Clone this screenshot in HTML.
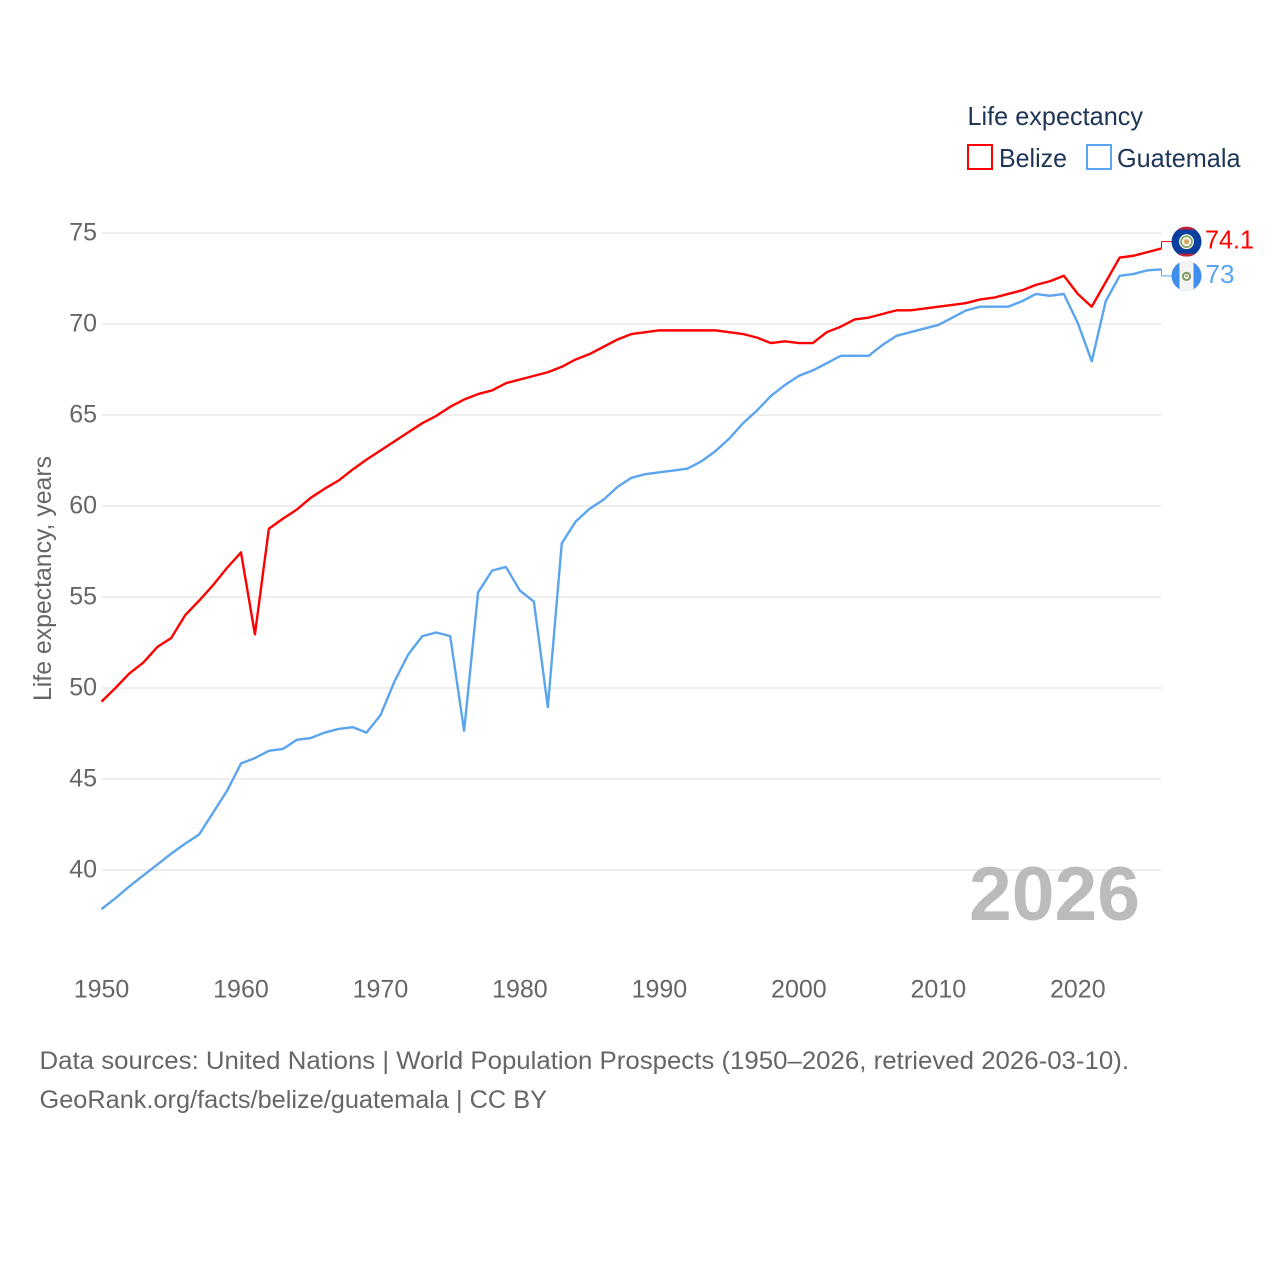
<!DOCTYPE html>
<html lang="en">
<head>
<meta charset="utf-8">
<title>Life expectancy: Belize and Guatemala</title>
<style>
  html, body { margin: 0; padding: 0; background: #fff; }
  svg { display: block; font-family: "Liberation Sans", sans-serif; }
</style>
</head>
<body>
<svg id="chart" width="1280" height="1280" viewBox="0 0 1280 1280" xmlns="http://www.w3.org/2000/svg">
  <g id="grid"></g>
  <g id="y-ticks"></g>
  <g id="x-ticks"></g>
  <text transform="translate(51,578.5) rotate(-90)" text-anchor="middle" font-size="25" fill="#666" textLength="245" lengthAdjust="spacingAndGlyphs">Life expectancy, years</text>
  <text id="year-label" x="969" y="920" font-size="76" font-weight="700" fill="#bbb" textLength="171" lengthAdjust="spacingAndGlyphs"></text>
  <g id="series"></g>

  <g>
    <text x="967.5" y="125" font-size="26" fill="#1d3557" textLength="175.5" lengthAdjust="spacingAndGlyphs">Life expectancy</text>
    <g>
      <rect x="968" y="145" width="24" height="24" fill="#fff" stroke="#ff0000" stroke-width="2"/>
      <text x="999" y="167" font-size="26" fill="#1d3557" textLength="68" lengthAdjust="spacingAndGlyphs">Belize</text>
    </g>
    <g>
      <rect x="1087" y="145" width="24" height="24" fill="#fff" stroke="#5ba4ee" stroke-width="2"/>
      <text x="1117" y="167" font-size="26" fill="#1d3557" textLength="123.5" lengthAdjust="spacingAndGlyphs">Guatemala</text>
    </g>
  </g>

  <g>
    <text x="39.5" y="1069" font-size="25" fill="#666" textLength="1089.5" lengthAdjust="spacingAndGlyphs">Data sources: United Nations | World Population Prospects (1950–2026, retrieved 2026-03-10).</text>
    <text x="39.5" y="1108" font-size="25" fill="#666" textLength="507.5" lengthAdjust="spacingAndGlyphs">GeoRank.org/facts/belize/guatemala | CC BY</text>
  </g>
</svg>

<script>
const years = [1950,1951,1952,1953,1954,1955,1956,1957,1958,1959,1960,1961,1962,1963,1964,1965,1966,1967,1968,1969,1970,1971,1972,1973,1974,1975,1976,1977,1978,1979,1980,1981,1982,1983,1984,1985,1986,1987,1988,1989,1990,1991,1992,1993,1994,1995,1996,1997,1998,1999,2000,2001,2002,2003,2004,2005,2006,2007,2008,2009,2010,2011,2012,2013,2014,2015,2016,2017,2018,2019,2020,2021,2022,2023,2024,2025,2026];
const belizeValues = [49.25,50.0,50.8,51.4,52.25,52.75,54.0,54.8,55.65,56.6,57.45,52.95,58.75,59.3,59.8,60.45,60.95,61.4,62.0,62.55,63.05,63.55,64.05,64.55,64.95,65.45,65.85,66.15,66.35,66.75,66.95,67.15,67.35,67.65,68.05,68.35,68.75,69.15,69.45,69.55,69.65,69.65,69.65,69.65,69.65,69.55,69.45,69.25,68.95,69.05,68.95,68.95,69.55,69.85,70.25,70.35,70.55,70.75,70.75,70.85,70.95,71.05,71.15,71.35,71.45,71.65,71.85,72.15,72.35,72.65,71.65,70.95,72.3,73.65,73.75,73.95,74.15];
const guatemalaValues = [37.85,38.45,39.1,39.7,40.3,40.9,41.45,41.95,43.15,44.35,45.85,46.15,46.55,46.65,47.15,47.25,47.55,47.75,47.85,47.55,48.5,50.35,51.85,52.85,53.05,52.85,47.65,55.25,56.45,56.65,55.35,54.75,48.95,57.95,59.15,59.85,60.35,61.05,61.55,61.75,61.85,61.95,62.05,62.45,63.0,63.7,64.55,65.25,66.05,66.65,67.15,67.45,67.85,68.25,68.25,68.25,68.85,69.35,69.55,69.75,69.95,70.35,70.75,70.95,70.95,70.95,71.25,71.65,71.55,71.65,70.05,67.95,71.25,72.65,72.75,72.95,73.0];
const yTickValues = [40,45,50,55,60,65,70,75];
const xTickValues = [1950,1960,1970,1980,1990,2000,2010,2020];
const belizeLabel = "74.1";
const guatemalaLabel = "73";

const NS = "http://www.w3.org/2000/svg";
const chartLeft = 101.5;
const chartRight = 1161.5;
const xScale = function (year) {
  return chartLeft + (year - years[0]) * (chartRight - chartLeft) / (years[years.length - 1] - years[0]);
};
const yScale = function (value) {
  return 870 - (value - 40) * 18.2;
};
function make(tag, attrs, parent, text) {
  const el = document.createElementNS(NS, tag);
  for (const key in attrs) el.setAttribute(key, attrs[key]);
  if (text !== undefined) el.textContent = text;
  parent.appendChild(el);
  return el;
}
function linePath(values) {
  return values.map(function (v, i) {
    return (i ? "L" : "M") + xScale(years[i]).toFixed(2) + " " + yScale(v).toFixed(2);
  }).join(" ");
}

const gridGroup = document.getElementById("grid");
const yGroup = document.getElementById("y-ticks");
const xGroup = document.getElementById("x-ticks");
const seriesGroup = document.getElementById("series");

yTickValues.forEach(function (tick) {
  const y = yScale(tick);
  const gridLine = make("line", { x1: chartLeft, x2: chartRight, y1: y, y2: y, stroke: "#eeeeee", "stroke-width": 2 }, gridGroup);
  
  
  const label = make("text", { x: 97, y: y + 7.5, "text-anchor": "end", "font-size": 25, fill: "#666" }, yGroup, String(tick));
  
  
});

xTickValues.forEach(function (tick) {
  const label = make("text", { x: xScale(tick), y: 997.5, "text-anchor": "middle", "font-size": 25, fill: "#666" }, xGroup, String(tick));
  
  
});

document.getElementById("year-label").textContent = String(years[years.length - 1]);

const belizeLine = make("path", { d: linePath(belizeValues), fill: "none", stroke: "#ff0000", "stroke-width": 2.4, "stroke-linejoin": "round" }, seriesGroup);


const guatemalaLine = make("path", { d: linePath(guatemalaValues), fill: "none", stroke: "#5ba4ee", "stroke-width": 2.4, "stroke-linejoin": "round" }, seriesGroup);



const flagCx = 1186.5;
const belizeLast = yScale(belizeValues[belizeValues.length - 1]);
const guatemalaLast = yScale(guatemalaValues[guatemalaValues.length - 1]);
const belizeFlagY = belizeLast - 6.8;
const guatemalaFlagY = guatemalaLast + 6.5;

const belizeConnector = make("path", { d: "M" + chartRight + " " + belizeLast + " V" + belizeFlagY + " H1172", fill: "none", stroke: "#ff0000", "stroke-width": 1 }, seriesGroup);


const guatemalaConnector = make("path", { d: "M" + chartRight + " " + guatemalaLast + " V" + guatemalaFlagY + " H1172", fill: "none", stroke: "#5ba4ee", "stroke-width": 1 }, seriesGroup);



const defs = make("defs", {}, seriesGroup);
const clipA = make("clipPath", { id: "clip-belize" }, defs);
make("circle", { cx: flagCx, cy: belizeFlagY, r: 15 }, clipA);
const clipB = make("clipPath", { id: "clip-guatemala" }, defs);
make("circle", { cx: flagCx, cy: guatemalaFlagY, r: 15 }, clipB);

const belizeFlag = make("g", { "clip-path": "url(#clip-belize)" }, seriesGroup);


make("rect", { x: flagCx - 15, y: belizeFlagY - 15, width: 30, height: 30, fill: "#0b3f9e" }, belizeFlag);
make("rect", { x: flagCx - 15, y: belizeFlagY - 15, width: 30, height: 3, fill: "#c4213a" }, belizeFlag);
make("rect", { x: flagCx - 15, y: belizeFlagY + 12, width: 30, height: 3, fill: "#c4213a" }, belizeFlag);
make("circle", { cx: flagCx, cy: belizeFlagY, r: 7.5, fill: "#f2f2ec" }, belizeFlag);
make("circle", { cx: flagCx, cy: belizeFlagY, r: 5.5, fill: "none", stroke: "#7fa65a", "stroke-width": 1.6 }, belizeFlag);
make("circle", { cx: flagCx, cy: belizeFlagY, r: 2.6, fill: "#d9a860" }, belizeFlag);

const guatemalaFlag = make("g", { "clip-path": "url(#clip-guatemala)" }, seriesGroup);


make("rect", { x: flagCx - 15, y: guatemalaFlagY - 15, width: 30, height: 30, fill: "#3f8eee" }, guatemalaFlag);
make("rect", { x: flagCx - 7, y: guatemalaFlagY - 15, width: 14, height: 30, fill: "#f4f4f4" }, guatemalaFlag);
make("circle", { cx: flagCx, cy: guatemalaFlagY + 0.5, r: 3.6, fill: "none", stroke: "#7f9a62", "stroke-width": 2 }, guatemalaFlag);
make("circle", { cx: flagCx, cy: guatemalaFlagY, r: 1.4, fill: "#b8a878" }, guatemalaFlag);

const belizeValue = make("text", { x: 1205, y: belizeFlagY + 7, "font-size": 26, fill: "#ff0000", textLength: 49, lengthAdjust: "spacingAndGlyphs" }, seriesGroup, belizeLabel);


const guatemalaValue = make("text", { x: 1205.5, y: guatemalaFlagY + 7, "font-size": 26, fill: "#5ba4ee", textLength: 29, lengthAdjust: "spacingAndGlyphs" }, seriesGroup, guatemalaLabel);


</script>
</body>
</html>
